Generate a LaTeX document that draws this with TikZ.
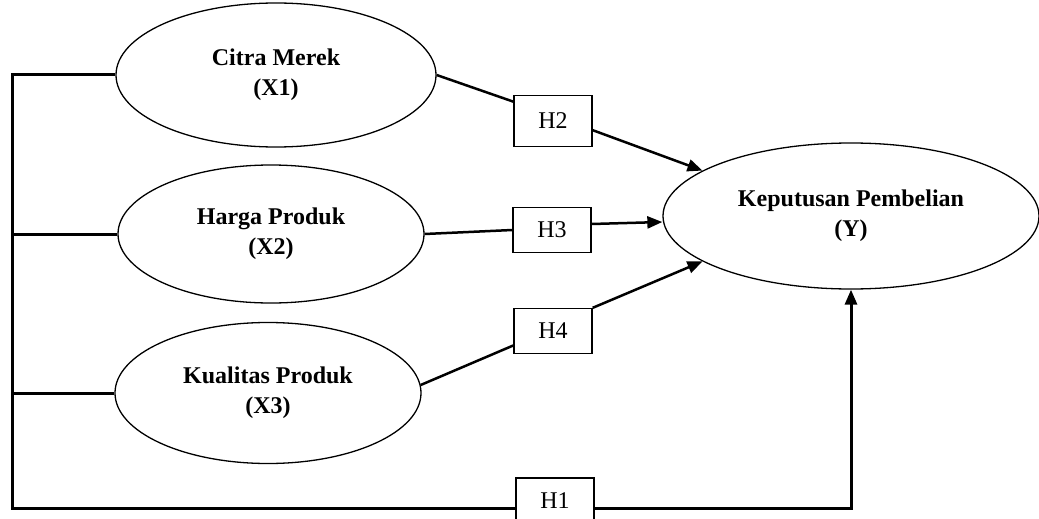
\documentclass[tikz,border=0pt]{standalone}
\usepackage{fontspec}
\setmainfont{Liberation Serif}
\usetikzlibrary{shapes.geometric,arrows.meta}
\begin{document}
\begin{tikzpicture}[x=1pt,y=-1pt,
 latent/.style={ellipse,draw,line width=1.3pt,inner sep=0pt,align=center,font=\fontsize{24}{30}\selectfont\bfseries},
 hyp/.style={rectangle,draw,line width=1.3pt,minimum width=78pt,minimum height=45pt,inner sep=0pt,font=\fontsize{24}{30}\selectfont},
 link/.style={line width=2.5pt},
 arr/.style={line width=2.5pt,-{Triangle[length=15pt,width=12pt]}},
 trunk/.style={line width=3pt}]
\useasboundingbox (0,0) rectangle (1039,519);
\fill[white] (0,0) rectangle (1039,519);
\node[latent,minimum width=320pt,minimum height=144pt] (e1) at (276,75) {Citra Merek\\(X1)};
\node[latent,minimum width=306pt,minimum height=138pt] (e2) at (271,234) {Harga Produk\\(X2)};
\node[latent,minimum width=306pt,minimum height=141pt] (e3) at (268,393) {Kualitas Produk\\(X3)};
\node[latent,minimum width=376pt,minimum height=146pt] (Y) at (851,216) {Keputusan Pembelian\\(Y)};
\node[hyp,minimum height=51pt] (H2) at (553,121) {H2};
\node[hyp] (H3) at (552,230) {H3};
\node[hyp] (H4) at (553,331) {H4};
\node[hyp,minimum height=46pt] (H1) at (555,501) {H1};
\coordinate (t1) at (12,75);
\coordinate (tb) at (12,508);
\draw[trunk] (e1.west) -- (t1) -- (tb) -- (tb -| H1.west);
\draw[trunk] (e2.west) -- (e2.west -| t1);
\draw[trunk] (e3.west) -- (e3.west -| t1);
\draw[trunk,-{Triangle[length=15pt,width=12pt]}] (H1.east |- tb) -| (Y.south);
\draw[link] (e1.east) -- (H2.154);
\draw[arr] (H2.-13) -- (Y.163);
\draw[link] (e2.east) -- (H3.west);
\draw[arr] ([yshift=6pt]H3.east) -- ([yshift=-6pt]Y.west);
\draw[link] (e3.3) -- (H4.200);
\draw[arr] (H4.north east) -- (Y.197);
\end{tikzpicture}
\end{document}
